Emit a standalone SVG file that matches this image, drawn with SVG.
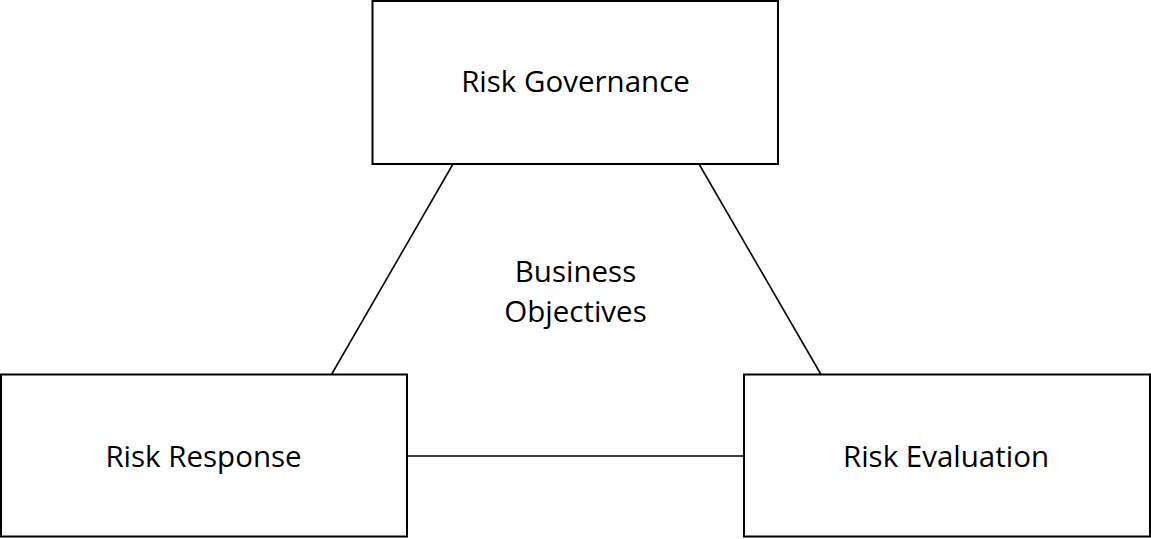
<svg xmlns="http://www.w3.org/2000/svg" width="1151" height="539" viewBox="0 0 1151 539">
<style>
.box{fill:#fff;stroke:#000;stroke-width:2}
.lbl{font-family:"Open Sans","Noto Sans",sans-serif;font-size:29.5px;fill:#000;text-anchor:middle}
.con{stroke:#000;stroke-width:1.6;fill:none}
</style>
<rect width="1151" height="539" fill="#fff"/>
<g id="connectors">
<line class="con" x1="453" y1="164" x2="331.5" y2="374.5"/>
<line class="con" x1="699" y1="164" x2="821" y2="374.5"/>
<line class="con" x1="407" y1="456" x2="744" y2="456"/>
</g>
<g id="risk-governance">
<rect class="box" x="372.5" y="1" width="405.5" height="163"/>
<text class="lbl" x="575.5" y="92">Risk Governance</text>
</g>
<g id="risk-response">
<rect class="box" x="1" y="374.5" width="406" height="162"/>
<text class="lbl" x="203.5" y="467">Risk Response</text>
</g>
<g id="risk-evaluation">
<rect class="box" x="744" y="374.5" width="406" height="162"/>
<text class="lbl" x="946" y="467">Risk Evaluation</text>
</g>
<g id="business-objectives">
<text class="lbl" x="575.5" y="282">Business</text>
<text class="lbl" x="575.5" y="322">Objectives</text>
</g>
</svg>
